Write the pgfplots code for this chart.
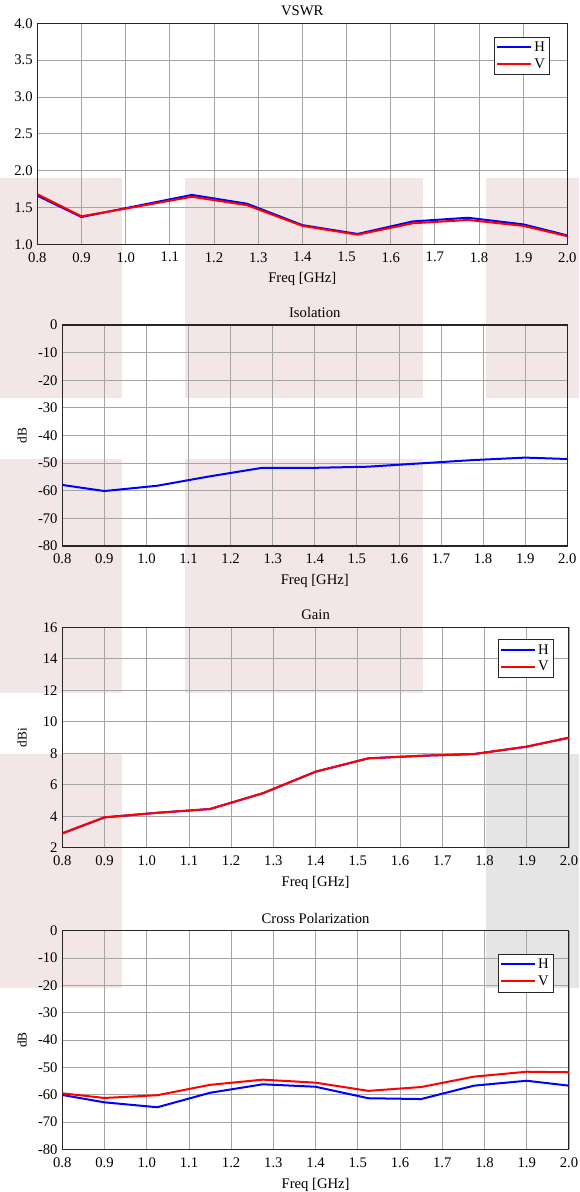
\documentclass[border=0pt]{standalone}
\usepackage{fontspec}
\setmainfont{Liberation Serif}
\usepackage{pgfplots}
\pgfplotsset{compat=1.18}

\definecolor{tilepink}{RGB}{242,230,231}
\definecolor{tilegray}{RGB}{229,229,229}
\definecolor{gridgray}{RGB}{165,165,165}

\newcommand{\chartfont}{\fontsize{11}{13}\selectfont}

\pgfplotsset{
  panel/.style={
    scale only axis,
    anchor=south west,
    xmin=0.8, xmax=2.0,
    xtick={0.8,0.9,1.0,1.1,1.2,1.3,1.4,1.5,1.6,1.7,1.8,1.9,2.0},
    grid=major,
    major grid style={gridgray, line width=0.6pt},
    axis line style={black!85, line width=0.8pt},
    major tick length=0pt,
    tick label style={font=\chartfont},
    label style={font=\chartfont},
    title style={font=\chartfont, yshift=-4pt},
    /pgf/number format/assume math mode=true,
    x tick label style={yshift=-2.5pt, /pgf/number format/.cd, fixed, fixed zerofill, precision=1, /tikz/.cd},
    xlabel={Freq [GHz]},
    xlabel style={yshift=-1pt},
    every axis y label/.style={at={(axis description cs:0,0.5)}, rotate=90, anchor=center, yshift=30.2pt},
    every axis plot/.append style={line width=1.5pt},
    legend cell align=left,
    legend style={at={(0.967,0.94)}, anchor=north east, draw=black!85,
      font=\chartfont, inner sep=1.5pt, row sep=0pt},
    legend image code/.code={\draw[#1, line width=1.5pt] (0pt,0pt) -- (25pt,0pt);},
  }
}

\begin{document}
\begin{tikzpicture}
\path[use as bounding box] (0pt,0pt) rectangle (434.25pt,-894pt);

% background tiles
\fill[tilepink] (0pt,-133.5pt) rectangle (91.5pt,-298.5pt);
\fill[tilepink] (138.75pt,-133.5pt) rectangle (317.25pt,-298.5pt);
\fill[tilepink] (364.5pt,-133.5pt) rectangle (434.25pt,-298.5pt);
\fill[tilepink] (0pt,-344.25pt) rectangle (91.5pt,-519.75pt);
\fill[tilepink] (138.75pt,-344.25pt) rectangle (317.25pt,-519.75pt);
\fill[tilepink] (0pt,-565.5pt) rectangle (91.5pt,-741pt);
\fill[tilegray] (364.5pt,-565.5pt) rectangle (434.25pt,-741pt);

% VSWR
\begin{axis}[panel,
  at={(28pt,-183.2pt)}, width=397.5pt, height=165.75pt,
  title={VSWR},
  ymin=1, ymax=4, ytick={1,1.5,2,2.5,3,3.5,4},
  y tick label style={/pgf/number format/.cd, fixed, fixed zerofill, precision=1, /tikz/.cd},
]
\addplot[blue] coordinates {(0.8,1.66) (0.9,1.37) (1.025,1.52) (1.15,1.67) (1.275,1.55) (1.4,1.26) (1.525,1.14) (1.65,1.31) (1.775,1.36) (1.9,1.27) (2.0,1.12)};
\addplot[red] coordinates {(0.8,1.68) (0.9,1.38) (1.025,1.51) (1.15,1.645) (1.275,1.53) (1.4,1.25) (1.525,1.13) (1.65,1.285) (1.775,1.33) (1.9,1.25) (2.0,1.11)};
\legend{H,V}
\end{axis}

% Isolation
\begin{axis}[panel,
  at={(46.7pt,-409.5pt)}, width=378.75pt, height=165.75pt,
  title={Isolation},
  ymin=-80, ymax=0, ytick={-80,-70,...,0},
  ylabel={dB},
]
\addplot[blue] coordinates {(0.8,-57.9) (0.9,-60.1) (1.025,-58.2) (1.15,-54.8) (1.275,-51.7) (1.4,-51.7) (1.525,-51.3) (1.65,-50.1) (1.775,-48.9) (1.9,-48.0) (2.0,-48.5)};
\end{axis}

% Gain
\begin{axis}[panel,
  at={(46.7pt,-635.8pt)}, width=380pt, height=165.3pt,
  title={Gain},
  ymin=2, ymax=16, ytick={2,4,...,16},
  ylabel={dBi},
  legend style={at={(0.97,0.945)}},
]
\addplot[blue] coordinates {(0.8,2.91) (0.9,3.93) (1.025,4.22) (1.15,4.46) (1.275,5.46) (1.4,6.83) (1.525,7.68) (1.65,7.84) (1.775,7.95) (1.9,8.42) (2.0,8.99)};
\addplot[red] coordinates {(0.8,2.91) (0.9,3.93) (1.025,4.22) (1.15,4.46) (1.275,5.46) (1.4,6.83) (1.525,7.68) (1.65,7.84) (1.775,7.95) (1.9,8.42) (2.0,8.99)};
\legend{H,V}
\end{axis}

% Cross Polarization
\begin{axis}[panel,
  at={(46.7pt,-862pt)}, width=380pt, height=164pt,
  title={Cross Polarization},
  ymin=-80, ymax=0, ytick={-80,-70,...,0},
  ylabel={dB},
  legend style={at={(0.97,0.895)}},
]
\addplot[blue] coordinates {(0.8,-60.1) (0.9,-62.8) (1.025,-64.6) (1.15,-59.3) (1.275,-56.2) (1.4,-57.1) (1.525,-61.3) (1.65,-61.6) (1.775,-56.7) (1.9,-54.9) (2.0,-56.7)};
\addplot[red] coordinates {(0.8,-59.5) (0.9,-61.2) (1.025,-60.2) (1.15,-56.4) (1.275,-54.5) (1.4,-55.6) (1.525,-58.6) (1.65,-57.2) (1.775,-53.4) (1.9,-51.6) (2.0,-51.8)};
\legend{H,V}
\end{axis}
\end{tikzpicture}
\end{document}
